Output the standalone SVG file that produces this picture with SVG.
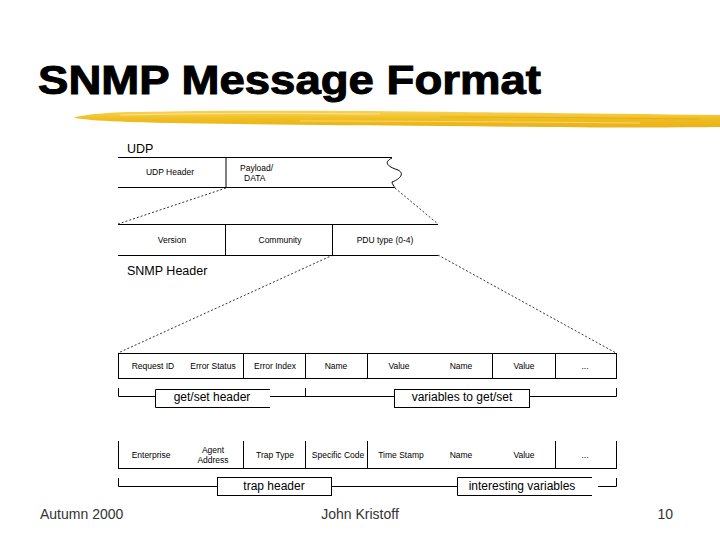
<svg xmlns="http://www.w3.org/2000/svg" width="720" height="540" viewBox="0 0 720 540">
<defs>
<linearGradient id="brush" x1="0" y1="0" x2="0" y2="1">
<stop offset="0" stop-color="#f7d358"/>
<stop offset="0.5" stop-color="#f0bd1e"/>
<stop offset="1" stop-color="#e8b21c"/>
</linearGradient>
</defs>
<style>
.ln{stroke:#000;stroke-width:1;fill:none}
.ds{stroke:#000;stroke-width:0.8;fill:none;stroke-dasharray:2,2}
.t{font-family:"Liberation Sans",Arial,sans-serif;font-size:8.5px;fill:#000;text-anchor:middle}
.ts{font-family:"Liberation Sans",Arial,sans-serif;font-size:8.5px;fill:#000;text-anchor:start}
.lb{font-family:"Liberation Sans",Arial,sans-serif;font-size:12.5px;fill:#000}
.bx{font-family:"Liberation Sans",Arial,sans-serif;font-size:12px;fill:#000;text-anchor:middle}
.ft{font-family:"Liberation Sans",Arial,sans-serif;font-size:14px;fill:#333}
</style>
<rect width="720" height="540" fill="#fff"/>
<text x="38" y="94" font-family="'Liberation Sans',Arial,sans-serif" font-weight="bold" font-size="40" stroke="#000" stroke-width="1" textLength="503" lengthAdjust="spacingAndGlyphs">SNMP Message Format</text>
<g id="brushstroke">
<path d="M75,117 C90,114 110,112 140,112 C240,110 360,111 460,112 C560,113 640,114 720,115 L720,127 C640,128 540,127 440,126 C320,125 200,124 130,122 C105,121 88,120 75,118 Z" fill="url(#brush)"/>
<path d="M120,115 C200,113 300,113 380,114" stroke="#fae08a" stroke-width="1.2" fill="none"/>
<path d="M300,121 C400,121 520,122 640,123" stroke="#f8d86a" stroke-width="1" fill="none"/>
<path d="M440,117 C520,117 600,118 700,119" stroke="#e6ae18" stroke-width="1" fill="none"/>
</g>
<g id="udp">
<text class="lb" x="127" y="153" font-size="13">UDP</text>
<path class="ln" d="M118,157.5 H392 M118,187.5 H394 M226,157.5 V187.5"/>
<path class="ln" d="M392,158 C384,162 386,166 398,170 C406,174 398,180 392,182 C392,184 394,186 395,188"/>
<text class="t" x="170" y="175">UDP Header</text>
<text class="ts" x="240" y="171">Payload/</text>
<text class="ts" x="244" y="181">DATA</text>
</g>
<g id="connectors">
<path class="ds" d="M226,188 L118,224"/>
<path class="ds" d="M395,188 L438,224"/>
<path class="ds" d="M333,255 L118,353"/>
<path class="ds" d="M438,255 L616,353"/>
</g>
<g id="snmp-header">
<path class="ln" d="M118,224.5 H438 M118,255.5 H438 M225.5,224.5 V255.5 M332.5,224.5 V255.5"/>
<text class="t" x="172" y="243">Version</text>
<text class="t" x="280" y="243">Community</text>
<text class="t" x="385" y="243">PDU type (0-4)</text>
<text class="lb" x="127" y="275">SNMP Header</text>
</g>
<g id="getset-row">
<rect class="ln" x="118.5" y="353.5" width="498" height="25"/>
<path class="ln" d="M243.5,353.5 V378.5 M305.5,353.5 V378.5 M367.5,353.5 V378.5 M492.5,353.5 V378.5 M555.5,353.5 V378.5"/>
<text class="t" x="153" y="369">Request ID</text>
<text class="t" x="213" y="369">Error Status</text>
<text class="t" x="275" y="369">Error Index</text>
<text class="t" x="336" y="369">Name</text>
<text class="t" x="399" y="369">Value</text>
<text class="t" x="461" y="369">Name</text>
<text class="t" x="524" y="369">Value</text>
<text class="t" x="585" y="369">...</text>
</g>
<g id="getset-brackets">
<path class="ln" d="M118.5,388 V396.5 H155 M270,396.5 H394 M305.5,388 V396.5 M530,396.5 H616.5 V388"/>
<path class="ln" d="M270,389.5 H155.5 V407.5 H270"/>
<text class="bx" x="212" y="401">get/set header</text>
<rect class="ln" x="394.5" y="389.5" width="135" height="18"/>
<text class="bx" x="462" y="401">variables to get/set</text>
</g>
<g id="trap-row">
<path class="ln" d="M118,468.5 H617 M118.5,441 V468.5 M243.5,441 V468.5 M305.5,441 V468.5 M367.5,441 V468.5 M555.5,441 V468.5 M616.5,441 V468.5"/>
<text class="t" x="151" y="458">Enterprise</text>
<text class="t" x="213" y="453">Agent</text>
<text class="t" x="213" y="463">Address</text>
<text class="t" x="275" y="458">Trap Type</text>
<text class="t" x="338" y="458">Specific Code</text>
<text class="t" x="401" y="458">Time Stamp</text>
<text class="t" x="461" y="458">Name</text>
<text class="t" x="524" y="458">Value</text>
<text class="t" x="585" y="458">...</text>
</g>
<g id="trap-brackets">
<path class="ln" d="M118.5,478 V486.5 H217 M332,486.5 H457 M598,486.5 H616.5 V478"/>
<rect class="ln" x="217.5" y="477.5" width="114" height="18"/>
<text class="bx" x="274" y="490">trap header</text>
<path class="ln" d="M592,477.5 H457.5 V495.5 H592"/>
<text class="bx" x="522" y="490">interesting variables</text>
</g>
<g id="footer">
<text class="ft" x="40" y="519">Autumn 2000</text>
<text class="ft" x="360" y="519" text-anchor="middle">John Kristoff</text>
<text class="ft" x="673" y="519" text-anchor="end">10</text>
</g>
</svg>
